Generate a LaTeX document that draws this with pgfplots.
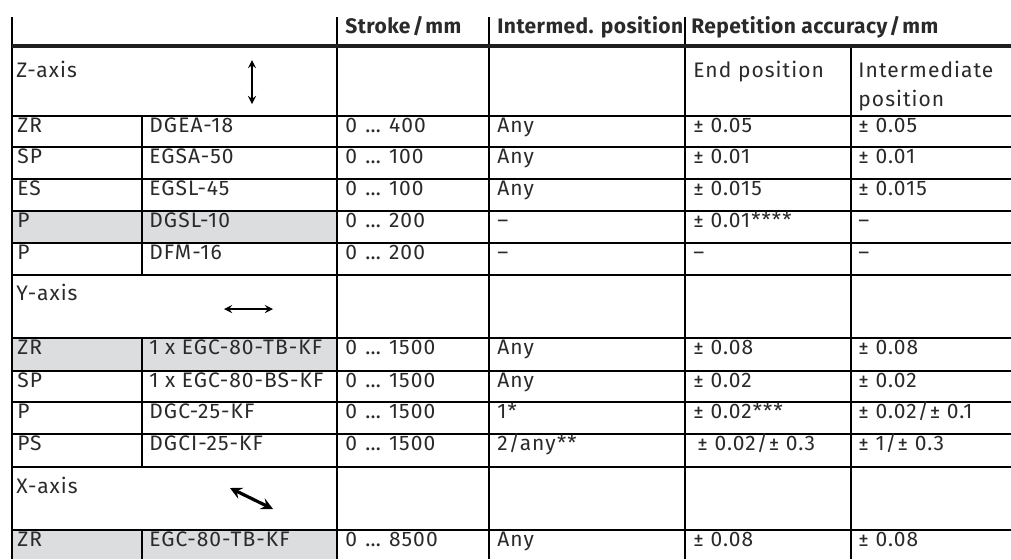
\documentclass[border=0pt]{standalone}
\usepackage{pgfplots}
\pgfplotsset{compat=1.18}
\usepackage{fontspec}
\setmainfont{Fira Sans}[LetterSpace=5]
\definecolor{grid}{HTML}{5A5A5A}
\definecolor{shade}{HTML}{DCDDDF}
\definecolor{txt}{HTML}{2A2A2A}
\tikzset{cell/.style={font=\fontsize{10.5pt}{12pt}\selectfont, text=txt, inner sep=0pt, anchor=base west},
         head/.style={font=\fontsize{10.5pt}{12pt}\selectfont\bfseries\addfontfeatures{LetterSpace=2}, text=txt, inner sep=0pt, anchor=base west}}
\newcommand{\T}[3]{\node[cell] at (axis cs:#1,#2) {#3};}
\newcommand{\E}{\hspace{0.8pt}…\hspace{0.8pt}\ }
\begin{document}
\begin{tikzpicture}
\begin{axis}[
  scale only axis, width=505.5pt, height=279.5pt,
  xmin=0, xmax=1011, ymin=0, ymax=559, y dir=reverse,
  hide axis, clip=true,
]
\addplot[draw=none] coordinates {(0,0) (1011,559)};
% shaded cells
\addplot[fill=shade, draw=none] coordinates {(12,211) (337,211) (337,243) (12,243)} --cycle;
\addplot[fill=shade, draw=none] coordinates {(12,338) (337,338) (337,371) (12,371)} --cycle;
\addplot[fill=shade, draw=none] coordinates {(12,530) (337,530) (337,559) (12,559)} --cycle;
% horizontal rules
\pgfplotsinvokeforeach{116,147,179,211,243,275,338,371,402,434,467,530}{
  \addplot[grid, line width=0.75pt] coordinates {(12,#1) (1011,#1)};
}
% vertical rules
\addplot[grid, line width=0.75pt] coordinates {(12,17) (12,559)};
\addplot[grid, line width=0.75pt] coordinates {(337,17) (337,559)};
\addplot[grid, line width=0.75pt] coordinates {(489,17) (489,559)};
\addplot[grid, line width=0.75pt] coordinates {(685,17) (685,559)};
\addplot[grid, line width=0.75pt] coordinates {(851,46) (851,559)};
\addplot[grid, line width=0.75pt] coordinates {(142,116) (142,275)};
\addplot[grid, line width=0.75pt] coordinates {(142,338) (142,467)};
\addplot[grid, line width=0.75pt] coordinates {(142,530) (142,559)};
% thick header rule
\addplot[black!88, line width=2pt] coordinates {(12,46) (1011,46)};
% axis direction arrows
\addplot[black, line width=0.8pt, <->, >=stealth] coordinates {(252,60) (252,104)};
\addplot[black, line width=0.8pt, <->, >=stealth] coordinates {(224,309) (273,309)};
\addplot[black, line width=1.6pt, <->, >=stealth] coordinates {(230,488) (273,509)};
% header
\node[head] at (axis cs:345,33) {Stroke\hspace{1pt}/\hspace{1pt}mm};
\node[head] at (axis cs:497,33) {Intermed. position};
\node[head] at (axis cs:691,33) {Repetition accuracy\hspace{1pt}/\hspace{1pt}mm};
% Z-axis block
\T{16}{77}{Z-axis}
\T{693}{77}{End position}
\T{858}{77}{Intermediate}
\T{858}{106}{position}
\T{17}{132}{ZR}  \T{149}{132}{DGEA-18} \T{345}{132}{0 \E 400} \T{497}{132}{Any} \T{693}{132}{± 0.05} \T{858}{132}{± 0.05}
\T{17}{163}{SP}  \T{149}{163}{EGSA-50} \T{345}{163}{0 \E 100} \T{497}{163}{Any} \T{693}{163}{± 0.01} \T{858}{163}{± 0.01}
\T{17}{195}{ES}  \T{149}{195}{EGSL-45} \T{345}{195}{0 \E 100} \T{497}{195}{Any} \T{693}{195}{± 0.015} \T{858}{195}{± 0.015}
\T{17}{227}{P}   \T{149}{227}{DGSL-10} \T{345}{227}{0 \E 200} \T{497}{227}{–} \T{693}{227}{± 0.01****} \T{858}{227}{–}
\T{17}{259}{P}   \T{149}{259}{DFM-16} \T{345}{259}{0 \E 200} \T{497}{259}{–} \T{693}{259}{–} \T{858}{259}{–}
% Y-axis block
\T{16}{300}{Y-axis}
\T{17}{354}{ZR}  \T{149}{354}{1 x EGC-80-TB-KF} \T{345}{354}{0 \E 1500} \T{497}{354}{Any} \T{693}{354}{± 0.08} \T{858}{354}{± 0.08}
\T{17}{387}{SP}  \T{149}{387}{1 x EGC-80-BS-KF} \T{345}{387}{0 \E 1500} \T{497}{387}{Any} \T{693}{387}{± 0.02} \T{858}{387}{± 0.02}
\T{17}{418}{P}   \T{149}{418}{DGC-25-KF} \T{345}{418}{0 \E 1500} \T{497}{418}{1*} \T{693}{418}{± 0.02***} \T{858}{418}{± 0.02/± 0.1}
\T{17}{450}{PS}  \T{149}{450}{DGCI-25-KF} \T{345}{450}{0 \E 1500} \T{497}{450}{2/any**} \T{697}{450}{± 0.02/± 0.3} \T{858}{450}{± 1/± 0.3}
% X-axis block
\T{16}{493}{X-axis}
\T{17}{546}{ZR}  \T{149}{546}{EGC-80-TB-KF} \T{345}{546}{0 \E 8500} \T{497}{546}{Any} \T{693}{546}{± 0.08} \T{858}{546}{± 0.08}
\end{axis}
\end{tikzpicture}
\end{document}
